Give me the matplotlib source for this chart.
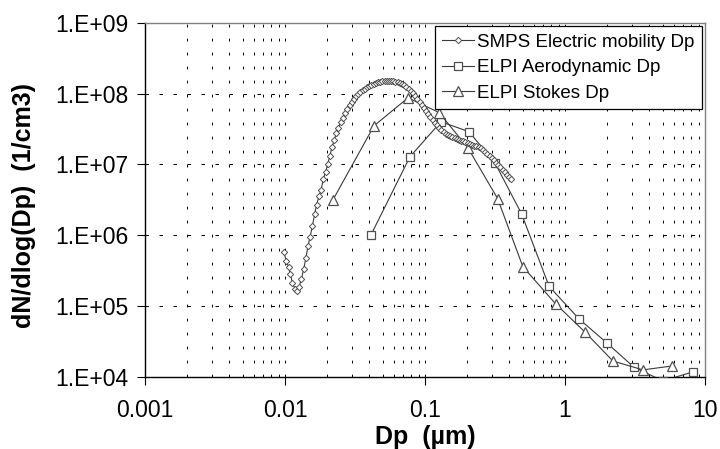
import numpy as np
import matplotlib
matplotlib.use("Agg")
import matplotlib.pyplot as plt
from matplotlib.ticker import LogLocator, FixedLocator, FixedFormatter, NullLocator, NullFormatter

plt.rcParams['font.family'] = ['Liberation Sans', 'DejaVu Sans']

# ---------------- data ----------------
smps_dp_nm = [9.82, 10.2, 10.6, 10.9, 11.3, 11.8, 12.2, 12.6, 13.1, 13.6, 14.1, 14.6, 15.1, 15.7,
              16.3, 16.8, 17.5, 18.1, 18.8, 19.5, 20.2, 20.9, 21.7, 22.5, 23.3, 24.1, 25.0, 25.9,
              26.9, 27.9, 28.9, 30.0, 31.1, 32.2, 33.4, 34.6, 35.9, 37.2, 38.5, 40.0, 41.4, 42.9,
              44.5, 46.1, 47.8, 49.6, 51.4, 53.3, 55.2, 57.3, 59.4, 61.5, 63.8, 66.1, 68.5, 71.0,
              73.7, 76.4, 79.1, 82.0, 85.1, 88.2, 91.4, 94.7, 98.2, 101.8, 105.5, 109.4, 113.4,
              117.6, 121.9, 126.3, 131.0, 135.8, 140.7, 145.9, 151.2, 156.8, 162.5, 168.5, 174.7,
              181.1, 187.7, 194.6, 201.7, 209.1, 216.7, 224.7, 232.9, 241.4, 250.3, 259.5, 269.0,
              278.8, 289.0, 299.6, 310.6, 322.0, 333.8, 346.0, 358.7, 371.8, 385.4, 399.5, 414.2]
smps_conc = [5.83e5, 4.35e5, 3.58e5, 2.85e5, 2.13e5, 1.75e5, 1.64e5, 1.87e5, 2.42e5, 3.35e5,
             4.80e5, 7.08e5, 9.49e5, 1.36e6, 2.01e6, 2.69e6, 3.60e6, 4.38e6, 6.26e6, 7.86e6,
             1.02e7, 1.32e7, 1.77e7, 2.22e7, 2.79e7, 3.29e7, 4.00e7, 4.55e7, 5.36e7, 6.10e7,
             6.95e7, 7.66e7, 8.45e7, 9.31e7, 9.94e7, 1.06e8, 1.13e8, 1.17e8, 1.25e8, 1.29e8,
             1.33e8, 1.37e8, 1.42e8, 1.44e8, 1.47e8, 1.49e8, 1.52e8, 1.52e8, 1.52e8, 1.52e8,
             1.49e8, 1.47e8, 1.44e8, 1.42e8, 1.37e8, 1.31e8, 1.25e8, 1.17e8, 1.10e8, 1.03e8,
             9.31e7, 8.45e7, 7.66e7, 6.95e7, 6.30e7, 5.71e7, 5.18e7, 4.70e7, 4.27e7, 3.87e7,
             3.63e7, 3.29e7, 3.08e7, 2.89e7, 2.70e7, 2.62e7, 2.54e7, 2.45e7, 2.38e7, 2.30e7,
             2.22e7, 2.15e7, 2.12e7, 2.09e7, 2.02e7, 1.95e7, 1.89e7, 1.83e7, 1.80e7, 1.75e7,
             1.69e7, 1.61e7, 1.51e7, 1.41e7, 1.32e7, 1.24e7, 1.16e7, 1.05e7, 9.87e6, 9.25e6,
             8.39e6, 7.86e6, 7.13e6, 6.68e6, 6.26e6]

elpi_aero_dp = [0.041, 0.078, 0.130, 0.206, 0.316, 0.49, 0.77, 1.26, 2.0, 3.1, 5.0, 8.2]
elpi_aero_conc = [1.0e6, 1.28e7, 4.0e7, 2.9e7, 1.05e7, 2.0e6, 1.9e5, 6.6e4, 3.0e4, 1.38e4, 8.8e3, 1.18e4]

elpi_stokes_dp = [0.022, 0.0432, 0.0756, 0.126, 0.203, 0.33, 0.50, 0.86, 1.39, 2.2, 3.6, 5.8]
elpi_stokes_conc = [3.16e6, 3.5e7, 8.7e7, 5.4e7, 1.7e7, 3.3e6, 3.6e5, 1.07e5, 4.3e4, 1.68e4, 1.26e4, 1.43e4]

x_ticks = [0.001, 0.01, 0.1, 1, 10]
x_tick_labels = ["0.001", "0.01", "0.1", "1", "10"]
y_ticks = [1e4, 1e5, 1e6, 1e7, 1e8, 1e9]
y_tick_labels = ["1.E+04", "1.E+05", "1.E+06", "1.E+07", "1.E+08", "1.E+09"]

series_labels = ["SMPS Electric mobility Dp", "ELPI Aerodynamic Dp", "ELPI Stokes Dp"]
x_label = "Dp  (µm)"
y_label = "dN/dlog(Dp)  (1/cm3)"

# ---------------- figure ----------------
W, H = 720, 449
fig = plt.figure(figsize=(W / 100, H / 100), dpi=100)
L, R, T, B = 145, 705, 22.7, 377
ax = fig.add_axes([L / W, 1 - B / H, (R - L) / W, (B - T) / H])

ax.set_xscale('log')
ax.set_yscale('log')
ax.set_xlim(0.001, 10)
ax.set_ylim(1e4, 1e9)

line_col = '#3a3a3a'
mk_edge = '#505050'
smps_dp_um = np.array(smps_dp_nm) / 1000.0

ax.plot(smps_dp_um, smps_conc, color=line_col, lw=0.8, marker='D', ms=3.2,
        mfc='white', mec=mk_edge, mew=0.7, label=series_labels[0], zorder=4)
ax.plot(elpi_aero_dp, elpi_aero_conc, color=line_col, lw=0.8, marker='s', ms=5.8,
        mfc='white', mec=mk_edge, mew=0.9, label=series_labels[1], zorder=3)
ax.plot(elpi_stokes_dp, elpi_stokes_conc, color=line_col, lw=0.8, marker='^', ms=7,
        mfc='white', mec=mk_edge, mew=0.9, label=series_labels[2], zorder=3)

# ticks
ax.xaxis.set_major_locator(FixedLocator(x_ticks))
ax.xaxis.set_major_formatter(FixedFormatter(x_tick_labels))
ax.xaxis.set_minor_locator(LogLocator(base=10, subs=np.arange(2, 10), numticks=20))
ax.xaxis.set_minor_formatter(NullFormatter())
ax.yaxis.set_major_locator(FixedLocator(y_ticks))
ax.yaxis.set_major_formatter(FixedFormatter(y_tick_labels))
ax.yaxis.set_minor_locator(NullLocator())

ax.tick_params(axis='both', which='major', direction='out', length=5.8, width=0.8,
               labelsize=16.5, colors='black')
ax.tick_params(axis='x', which='major', pad=10)
ax.tick_params(axis='y', which='major', pad=6)
ax.tick_params(axis='x', which='minor', length=0)

# grid
ax.set_axisbelow(True)
ax.grid(True, axis='y', which='major', color='black', lw=0.7, linestyle=(0, (3.6, 10.8)))
ax.grid(True, axis='x', which='both', color='black', lw=0.7, linestyle=(0, (2.9, 11.5)))

for s in ['left', 'bottom']:
    ax.spines[s].set_color('black')
    ax.spines[s].set_linewidth(1.0)
for s in ['top', 'right']:
    ax.spines[s].set_color('#808080')
    ax.spines[s].set_linewidth(1.0)

# labels
fig.text(425 / W, 1 - 437 / H, x_label, ha='center', va='center', fontsize=18, fontweight='bold')
fig.text(24 / W, 1 - 205 / H, y_label, ha='center', va='center', rotation=90,
         fontsize=18, fontweight='bold')

leg = ax.legend(loc='upper right', bbox_to_anchor=(702 / W, 1 - 26 / H),
                bbox_transform=fig.transFigure, fontsize=13.5, frameon=True, fancybox=False,
                edgecolor='black', framealpha=1, borderaxespad=0, handlelength=1.7,
                handletextpad=0.15, labelspacing=0.45, borderpad=0.4)
leg.get_frame().set_linewidth(0.9)

fig.savefig('out.png', dpi=100)
